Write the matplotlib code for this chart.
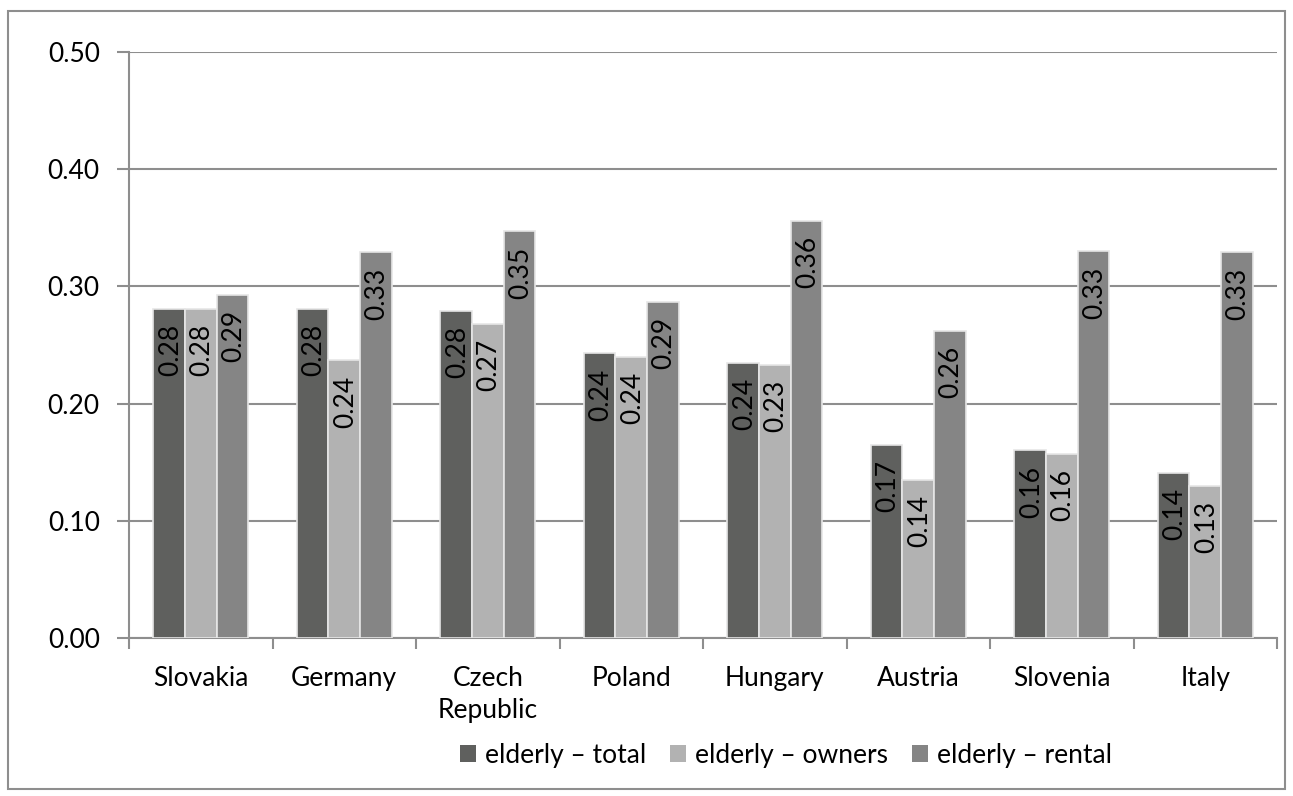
import matplotlib
matplotlib.use('Agg')
import matplotlib.pyplot as plt
import numpy as np
from matplotlib.patches import Patch, Rectangle

plt.rcParams['font.family'] = ['Lato', 'DejaVu Sans']

countries = ['Slovakia', 'Germany', 'Czech\nRepublic', 'Poland', 'Hungary',
             'Austria', 'Slovenia', 'Italy']
series_names = ['elderly \u2013 total', 'elderly \u2013 owners', 'elderly \u2013 rental']
total = [0.281, 0.281, 0.279, 0.243, 0.235, 0.165, 0.160, 0.141]
owners = [0.281, 0.237, 0.268, 0.240, 0.233, 0.135, 0.157, 0.130]
rental = [0.293, 0.329, 0.347, 0.287, 0.356, 0.262, 0.330, 0.329]
labels_total = ['0.28', '0.28', '0.28', '0.24', '0.24', '0.17', '0.16', '0.14']
labels_owners = ['0.28', '0.24', '0.27', '0.24', '0.23', '0.14', '0.16', '0.13']
labels_rental = ['0.29', '0.33', '0.35', '0.29', '0.36', '0.26', '0.33', '0.33']
yticks = [0.0, 0.1, 0.2, 0.3, 0.4, 0.5]

colors = ['#5f605e', '#b2b2b2', '#858585']
grid_c = '#8e8e8e'
fs = 19

fig = plt.figure(figsize=(12.93, 7.96), dpi=100)
ax = fig.add_axes([129/1293, 1 - 638/796, (1277-129)/1293, (638-52)/796])

x = np.arange(len(countries))
w = 0.22
data = [total, owners, rental]
labs = [labels_total, labels_owners, labels_rental]
for i, (vals, lab) in enumerate(zip(data, labs)):
    bars = ax.bar(x + (i - 1) * w, vals, w, color=colors[i],
                  edgecolor='#e6e6e6', linewidth=1.2, zorder=3)
    for b, t in zip(bars, lab):
        ax.annotate(t, (b.get_x() + b.get_width() / 2, b.get_height()),
                    xytext=(1, -11), textcoords='offset points',
                    rotation=90, ha='center', va='top', fontsize=fs,
                    color='black', zorder=4)

ax.set_xlim(-0.5, len(countries) - 0.5)
ax.set_ylim(0, 0.5)
ax.set_yticks(yticks)
ax.set_yticklabels(['%.2f' % v for v in yticks], fontsize=fs)
ax.set_xticks(x)
ax.set_xticklabels(countries, fontsize=fs, linespacing=1.35)
ax.set_xticks(np.arange(-0.5, len(countries)), minor=True)
ax.tick_params(axis='x', which='major', length=0, pad=20)
ax.tick_params(axis='x', which='minor', length=8, width=1.5, color=grid_c)
ax.tick_params(axis='y', length=9, width=1.5, color=grid_c, pad=12)
ax.yaxis.grid(True, color=grid_c, linewidth=1.5, zorder=0)
ax.set_axisbelow(True)
for s in ['top', 'right']:
    ax.spines[s].set_visible(False)
for s in ['left', 'bottom']:
    ax.spines[s].set_color(grid_c)
    ax.spines[s].set_linewidth(1.5)

handles = [Patch(facecolor=c, edgecolor='none') for c in colors]
fig.legend(handles, series_names, loc='center', ncol=3,
           bbox_to_anchor=(786/1293, 1 - 755/796), frameon=False,
           fontsize=fs, handlelength=0.6, handleheight=0.6,
           handletextpad=0.35, columnspacing=0.9)

fig.patches.append(Rectangle((8/1293, 1 - 789/796), (1285-8)/1293, (789-11)/796,
                             transform=fig.transFigure, fill=False,
                             edgecolor=grid_c, linewidth=1.5))

fig.savefig('out.png', dpi=100)
